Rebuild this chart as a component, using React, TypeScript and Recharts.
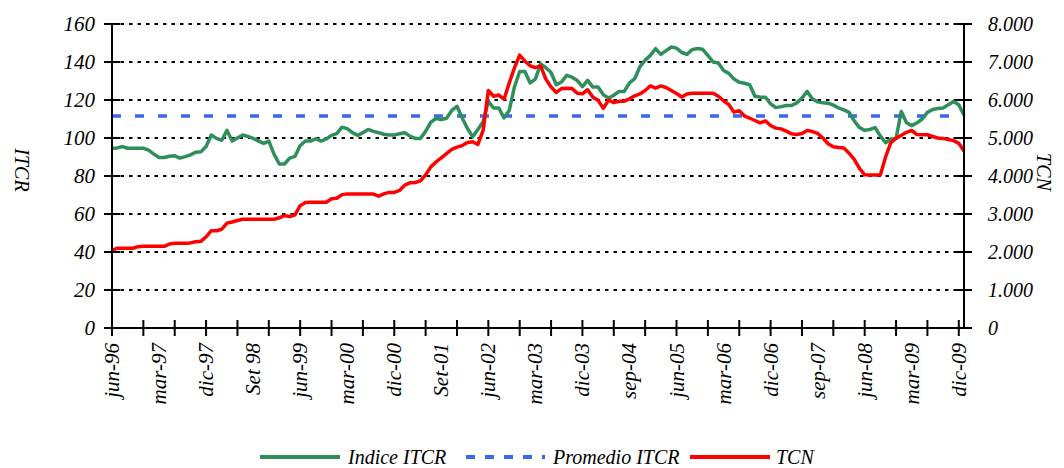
import { LineChart, Line, XAxis, YAxis, CartesianGrid, ReferenceLine, Legend } from 'recharts';

const FONT = '"Liberation Serif", "DejaVu Serif", serif';
const GREEN = '#2f8f5b';
const RED = '#ff0000';
const BLUE = '#3a66f0';

// monthly series, jun-96 .. ene-10
const MESES = ['ene', 'feb', 'mar', 'abr', 'may', 'jun', 'jul', 'ago', 'sep', 'oct', 'nov', 'dic'];
const START_YEAR = 1996;
const START_MONTH = 5;

const itcr = [
  94.6, 94.8, 95.5, 94.6, 94.6, 94.6, 94.6, 93.6, 91.5, 89.7,
  89.7, 90.4, 90.6, 89.4, 90.2, 91.1, 92.5, 92.7, 95.5, 101.6,
  99.8, 98.8, 104, 98.4, 100, 101.6, 100.8, 99.8, 98.5, 97.2,
  98.4, 91.5, 86.3, 86.3, 89.4, 90.3, 96, 98.4, 98.4, 99.6,
  98.4, 99.5, 101.4, 102.3, 105.7, 104.9, 102.8, 101.4, 102.8, 104.5,
  103.5, 102.8, 102, 101.6, 101.6, 102.2, 102.8, 101, 99.8, 99.7,
  103.5, 108.3, 110.3, 109.7, 110.4, 114.5, 116.7, 110.5, 105, 100.7,
  104.5, 108.5, 119.3, 115.8, 115.8, 110.6, 114.5, 127, 135, 135,
  129, 131, 139, 137, 134.5, 128, 129.5, 133, 132, 130.3,
  127, 130.3, 126.8, 126.8, 122.8, 121, 122.5, 124.5, 124.5, 129,
  131.2, 137.5, 141, 143.5, 147, 144, 146, 147.9, 147.3, 145,
  144, 146.5, 147.1, 146.7, 143.5, 140, 139.5, 135.5, 134, 131,
  129.3, 128.8, 128, 122, 121.5, 121.5, 118, 116, 116.5, 117.1,
  117.1, 118.5, 121, 124.5, 120.5, 119, 118.5, 118.3, 117.3, 115.8,
  114.8, 113.5, 109, 105.5, 104, 104.5, 105.5, 101, 97.5, 99.5,
  99.8, 114, 108, 106.5, 108, 110, 113.5, 115, 115.5, 115.8,
  117.5, 119.2, 117.5, 112,
];

const tcn = [
  2040, 2100, 2100, 2100, 2100, 2140, 2150, 2150, 2150, 2150,
  2150, 2210, 2230, 2230, 2230, 2240, 2270, 2280, 2400, 2560,
  2560, 2600, 2760, 2790, 2830, 2860, 2860, 2860, 2860, 2860,
  2860, 2860, 2900, 2960, 2930, 2980, 3220, 3300, 3310, 3310,
  3310, 3310, 3400, 3414, 3510, 3526, 3526, 3526, 3526, 3526,
  3526, 3470, 3530, 3569, 3569, 3620, 3760, 3820, 3830, 3870,
  4030, 4240, 4370, 4480, 4590, 4700, 4760, 4800, 4880, 4900,
  4830, 5200, 6250, 6100, 6130, 6020, 6450, 6850, 7180, 7020,
  6900, 6850, 6900, 6550, 6340, 6200, 6300, 6312, 6300, 6180,
  6162, 6270, 6070, 5990, 5780, 6000, 5930, 5968, 5968, 6030,
  6110, 6160, 6250, 6370, 6312, 6370, 6330, 6250, 6170, 6080,
  6160, 6180, 6180, 6180, 6180, 6180, 6100, 5980, 5880, 5680,
  5720, 5580, 5520, 5460, 5400, 5450, 5330, 5260, 5240, 5180,
  5110, 5090, 5120, 5200, 5170, 5120, 5000, 4850, 4770, 4750,
  4740, 4600, 4440, 4200, 4030, 4028, 4028, 4028, 4500, 4880,
  4990, 5070, 5150, 5200, 5090, 5086, 5086, 5040, 5000, 4990,
  4960, 4930, 4860, 4660,
];

const promedioItcr = 111.6;

const tickLabels = [
  'jun-96', 'mar-97', 'dic-97', 'Set 98', 'jun-99', 'mar-00', 'dic-00', 'Set-01', 'jun-02', 'mar-03',
  'dic-03', 'sep-04', 'jun-05', 'mar-06', 'dic-06', 'sep-07', 'jun-08', 'mar-09', 'dic-09',
];
const leftTicks = [0, 20, 40, 60, 80, 100, 120, 140, 160];
const rightTicks = [0, 1000, 2000, 3000, 4000, 5000, 6000, 7000, 8000];

const data = itcr.map((v, i) => {
  const m = START_MONTH + i;
  const yr = (START_YEAR + Math.floor(m / 12)) % 100;
  return { i, mes: `${MESES[m % 12]}-${String(yr).padStart(2, '0')}`, itcr: v, tcn: tcn[i] };
});

const LAST_TICK = (tickLabels.length - 1) * 9;
const xTicks = data.map(d => d.i).filter(i => i <= LAST_TICK && (i % 6 === 0 || i % 9 === 0));

const textStyle = { fontFamily: FONT, fontStyle: 'italic' as const, fontSize: 21, fill: '#000' };
const smallText = { ...textStyle, fontSize: 20 };

const XTick = ({ x, y, payload }: any) => {
  const i = payload.value as number;
  return (
    <g transform={`translate(${x},${y})`}>
      {i % 6 === 0 && <line y1={-8} y2={8} stroke="#000" strokeWidth={2} />}
      {i % 9 === 0 && (
        <text transform="translate(0,15) rotate(-90)" textAnchor="end" dominantBaseline="central" style={textStyle}>
          {tickLabels[i / 9]}
        </text>
      )}
    </g>
  );
};

const LeftTick = ({ x, y, payload }: any) => (
  <g transform={`translate(${x},${y})`}>
    <line x1={-8} x2={8} stroke="#000" strokeWidth={2} />
    <text x={-17} textAnchor="end" dominantBaseline="central" style={textStyle}>
      {payload.value}
    </text>
  </g>
);

const RightTick = ({ x, y, payload }: any) => (
  <g transform={`translate(${x},${y})`}>
    <line x1={-8} x2={8} stroke="#000" strokeWidth={2} />
    <text x={24} textAnchor="start" dominantBaseline="central" style={smallText}>
      {payload.value === 0 ? '0' : `${payload.value / 1000}.000`}
    </text>
  </g>
);

const LegendContent = () => (
  <svg width={1048} height={30} style={{ overflow: 'visible' }}>
    <line x1={252} x2={332} y1={14} y2={14} stroke={GREEN} strokeWidth={4} />
    <text x={340} y={14} dominantBaseline="central" style={smallText}>Indice ITCR</text>
    <line x1={458} x2={537} y1={14} y2={14} stroke={BLUE} strokeWidth={4} strokeDasharray="9 10" />
    <text x={545} y={14} dominantBaseline="central" style={smallText}>Promedio ITCR</text>
    <line x1={682} x2={762} y1={14} y2={14} stroke={RED} strokeWidth={4} />
    <text x={768} y={14} dominantBaseline="central" style={smallText}>TCN</text>
  </svg>
);

export default function App() {
  return (
    <LineChart width={1048} height={460} data={data} margin={{ top: 16, right: 0, bottom: 60, left: 0 }}>
      <CartesianGrid
        yAxisId="left"
        vertical={false}
        stroke="#000"
        strokeWidth={2}
        strokeDasharray="3.5 5"
      />
      <XAxis
        dataKey="i"
        type="number"
        domain={[0, data.length - 1]}
        ticks={xTicks}
        interval={0}
        height={80}
        tickSize={0}
        tickMargin={0}
        tickLine={false}
        axisLine={{ stroke: '#000', strokeWidth: 2 }}
        tick={<XTick />}
      />
      <YAxis
        yAxisId="left"
        domain={[0, 160]}
        ticks={leftTicks}
        interval={0}
        width={104}
        tickSize={0}
        tickMargin={0}
        tickLine={false}
        axisLine={{ stroke: '#000', strokeWidth: 2 }}
        tick={<LeftTick />}
        label={{
          content: () => (
            <text transform="translate(14,162) rotate(90)" textAnchor="middle" dominantBaseline="central" style={smallText}>
              ITCR
            </text>
          ),
        }}
      />
      <YAxis
        yAxisId="right"
        orientation="right"
        domain={[0, 8000]}
        ticks={rightTicks}
        interval={0}
        width={92}
        tickSize={0}
        tickMargin={0}
        tickLine={false}
        axisLine={{ stroke: '#000', strokeWidth: 2 }}
        tick={<RightTick />}
        label={{
          content: () => (
            <text transform="translate(1036,164) rotate(90)" textAnchor="middle" dominantBaseline="central" style={smallText}>
              TCN
            </text>
          ),
        }}
      />
      <ReferenceLine yAxisId="left" y={promedioItcr} stroke={BLUE} strokeWidth={3.5} strokeDasharray="9 14" />
      <Line
        yAxisId="left"
        dataKey="itcr"
        name="Indice ITCR"
        type="linear"
        stroke={GREEN}
        strokeWidth={3.5}
        dot={false}
        strokeLinejoin="round"
        isAnimationActive={false}
      />
      <Line
        yAxisId="right"
        dataKey="tcn"
        name="TCN"
        type="linear"
        stroke={RED}
        strokeWidth={3.5}
        dot={false}
        strokeLinejoin="round"
        isAnimationActive={false}
      />
      <Legend
        layout="horizontal"
        verticalAlign="middle"
        wrapperStyle={{ top: 435, left: 0, width: 1048 }}
        content={<LegendContent />}
      />
    </LineChart>
  );
}
